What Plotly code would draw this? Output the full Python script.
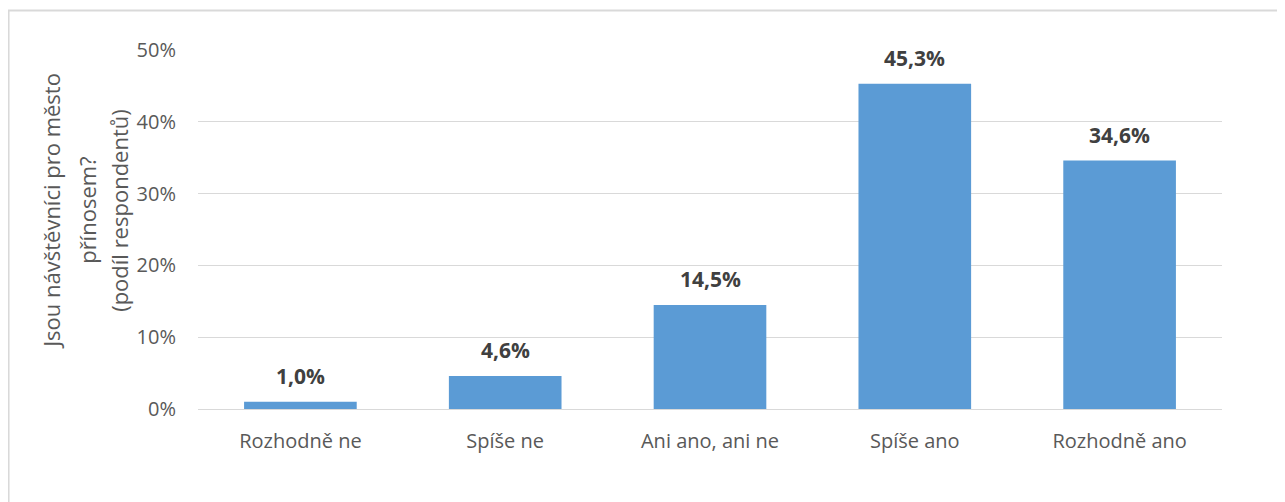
import plotly.graph_objects as go

# survey answers and share of respondents (%)
categories = ['Rozhodně ne', 'Spíše ne', 'Ani ano, ani ne', 'Spíše ano', 'Rozhodně ano']
shares = [1.0, 4.6, 14.5, 45.3, 34.6]
y_ticks = [0, 10, 20, 30, 40, 50]
y_tick_labels = ['0%', '10%', '20%', '30%', '40%', '50%']
y_title_lines = ['Jsou návštěvníci pro město', 'přínosem?', '(podíl respondentů)']

FONT = 'Open Sans'
bar_color = '#5B9BD5'
grid_color = '#D9D9D9'
tick_color = '#595959'

labels = [f'{v:.1f}%'.replace('.', ',') for v in shares]

bars = go.Bar(
    x=categories,
    y=shares,
    marker=dict(color=bar_color, line=dict(width=0)),
    width=0.55,
    showlegend=False,
    hoverinfo='skip'
)

annotations = []
for cat, val, lab in zip(categories, shares, labels):
    annotations.append(dict(
        x=cat, y=val, xref='x', yref='y',
        text='<b>' + lab + '</b>',
        showarrow=False, yanchor='bottom', yshift=10,
        font=dict(family=FONT, size=21, color='#404040')
    ))

# y axis title, one annotation per line (Excel-like spacing)
for i, line in enumerate(y_title_lines):
    annotations.append(dict(
        x=0, y=0.552, xref='paper', yref='paper',
        xshift=[-147, -111, -79][i],
        text=line, textangle=-90,
        showarrow=False, xanchor='center', yanchor='middle',
        font=dict(family=FONT, size=22, color=tick_color)
    ))

layout = go.Layout(
    width=1285,
    height=502,
    margin=dict(l=190, r=71, t=42, b=101),
    paper_bgcolor='white',
    plot_bgcolor='white',
    font=dict(family=FONT, size=20, color=tick_color),
    bargap=0.45,
    xaxis=dict(
        showgrid=False, showline=False, zeroline=False,
        tickfont=dict(family=FONT, size=20, color=tick_color),
        ticklabelstandoff=18
    ),
    yaxis=dict(
        range=[0, 50], tickvals=y_ticks, ticktext=y_tick_labels,
        showgrid=True, gridcolor=grid_color, gridwidth=1,
        zeroline=True, zerolinecolor=grid_color, zerolinewidth=1,
        showline=False,
        tickfont=dict(family=FONT, size=20, color=tick_color),
        ticklabelstandoff=21
    ),
    annotations=annotations,
    shapes=[dict(
        type='rect', xref='paper', yref='paper',
        x0=-0.185, x1=1.2, y0=-0.4, y1=1.110,
        line=dict(color=grid_color, width=2), fillcolor='rgba(0,0,0,0)',
        layer='below'
    )]
)

fig = go.Figure(bars, layout)
fig.write_html('out.html')
